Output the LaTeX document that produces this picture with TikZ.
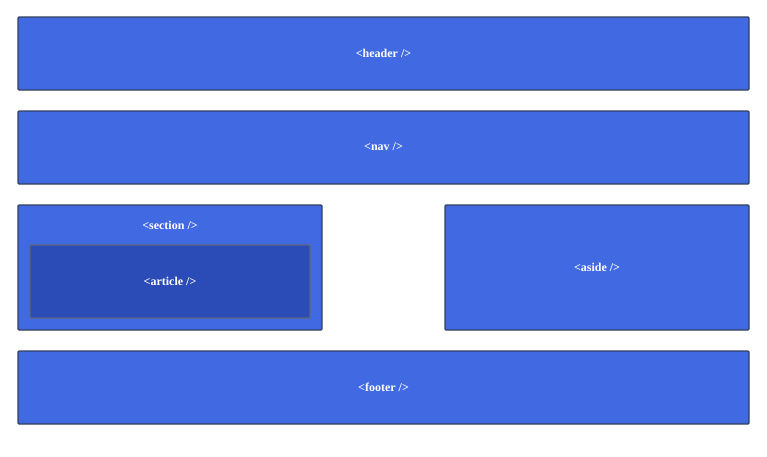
\documentclass[tikz,border=0pt]{standalone}
\usepackage{fontspec}
\setmainfont{Liberation Serif}
\usetikzlibrary{positioning}
\definecolor{boxblue}{HTML}{4169E1}
\definecolor{innerblue}{HTML}{2B4BB6}
\definecolor{edgegray}{HTML}{33405E}
\tikzset{%
  tagbox/.style   = {draw=edgegray, line width=1.2pt, fill=boxblue, rounded corners=1pt},%
  innerbox/.style = {tagbox, fill=innerblue, draw=edgegray!80},%
  tag/.style      = {text=white, font=\bfseries\fontsize{12}{14}\selectfont}%
}
\begin{document}
\begin{tikzpicture}[x=1pt, y=-1pt]
  \useasboundingbox (0,0) rectangle (767,456);
  % ------------- page regions -------------
  \draw[tagbox] (18,17) rectangle (749,90);
  \node[tag] (header) at (383.5,53) {<header />};
  \draw[tagbox] (18,111) rectangle (749,184);
  \node[tag] (nav) at (383.5,147) {<nav />};
  \draw[tagbox] (18,205) rectangle (322,330);
  \node[tag] (section) at (170,225) {<section />};
  \draw[innerbox] (30,245) rectangle (310,318);
  \node[tag] (article) at (170,281) {<article />};
  \draw[tagbox] (445,205) rectangle (749,330);
  \node[tag] (aside) at (597,267) {<aside />};
  \draw[tagbox] (18,351) rectangle (749,424);
  \node[tag] (footer) at (383.5,387) {<footer />};
\end{tikzpicture}
\end{document}
